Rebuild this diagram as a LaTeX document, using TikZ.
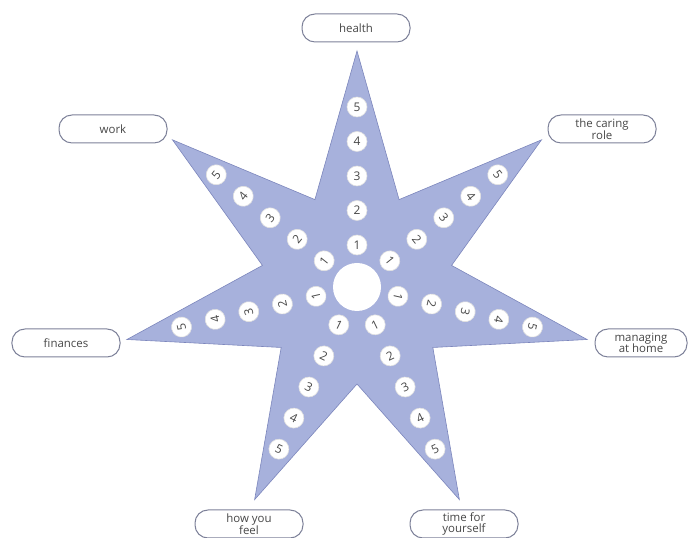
\documentclass[tikz,border=0pt]{standalone}
\usepackage{fontspec}
\setmainfont{Open Sans}
\definecolor{starfill}{HTML}{A7B1DC}
\definecolor{staredge}{HTML}{7C86BC}
\definecolor{boxedge}{HTML}{7D8199}
\definecolor{txt}{HTML}{474747}
\begin{document}
\begin{tikzpicture}[x=1bp,y=1bp,
  lbl/.style={draw=boxedge, line width=1bp, fill=white, rounded corners=13bp,
    minimum width=108bp, minimum height=28bp, align=center,
    font=\fontsize{11.5}{11.5}\selectfont, text=txt, inner sep=1bp},
  num/.style={circle, fill=white, draw=white!88!black, line width=0.6bp,
    minimum size=20bp, inner sep=0pt, font=\fontsize{12}{12}\selectfont, text=txt}]
\useasboundingbox (0,0) rectangle (691,538);
\begin{scope}[shift={(357,251)}]
  \draw[fill=starfill, draw=staredge, line width=0.6bp] (90:236)
    \foreach \k in {1,...,7}{ -- ({90+(\k-0.5)*360/7}:97) -- ({90+\k*360/7}:236)} -- cycle;
  \node[circle, fill=white, minimum size=48bp, inner sep=0pt] (hub) at (0,0) {};
  \foreach \k in {0,...,6}{
    \pgfmathsetmacro\a{90+\k*360/7}
    \pgfmathsetmacro\rot{(\k==3 || \k==4) ? \a+90 : \a-90}
    \foreach \j in {1,...,5}{
      \node[num, rotate=\rot] (n\k-\j) at (\a:{42+34.5*(\j-1)}) {\j};
    }
  }
\end{scope}
\node[lbl] (health) at (356,510) {health};
\node[lbl] (work) at (113,409) {work};
\node[lbl] (caring) at (602,409) {the caring\\role};
\node[lbl] (finances) at (66,195) {finances};
\node[lbl, minimum width=92bp] (managing) at (641,195) {managing\\at home};
\node[lbl] (feel) at (249,14) {how you\\feel};
\node[lbl] (time) at (464,14) {time for\\yourself};
\end{tikzpicture}
\end{document}
